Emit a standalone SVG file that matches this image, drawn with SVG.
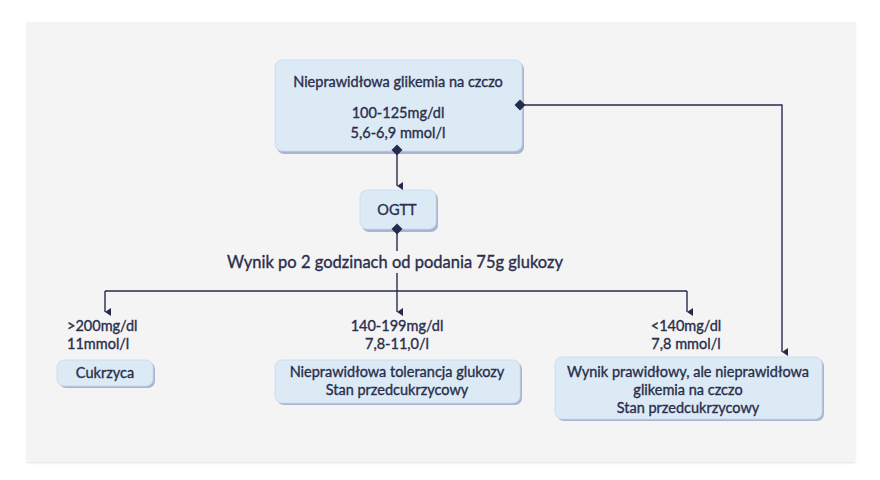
<svg xmlns="http://www.w3.org/2000/svg" width="880" height="480" viewBox="0 0 880 480">
<defs>
<marker id="arr" viewBox="0 0 8 8" refX="4" refY="8" markerWidth="8" markerHeight="8" markerUnits="userSpaceOnUse" orient="auto-start-reverse">
<path d="M0,2 L8,2 L4,8 Z" fill="#262b4d"/>
</marker>
<filter id="pshadow" x="-5%" y="-5%" width="110%" height="110%">
<feDropShadow dx="0" dy="1" stdDeviation="1.2" flood-color="#000" flood-opacity="0.12"/>
</filter>
</defs>
<style>
.t{font-family:Lato,"Noto Sans",sans-serif;font-size:14.5px;fill:#2a2e4c;stroke:#2a2e4c;stroke-width:0.35}
.big{font-size:16.5px}
.sh{fill:#a8b6d2}
.bx{fill:#dceaf6;stroke:#c9d9ec;stroke-width:0.8}
.ln{stroke:#262b4d;stroke-width:1.4;fill:none}
.dot{fill:#262b4d}
</style>
<rect x="0" y="0" width="880" height="480" fill="#ffffff"/>
<rect x="27" y="22" width="828" height="440" fill="#f4f4f5" filter="url(#pshadow)"/>

<g id="node-ifg">
<rect class="sh" x="277" y="62" width="247" height="92" rx="7"/>
<rect class="bx" x="275" y="60" width="247" height="91" rx="7"/>
<text class="t" x="398" y="87" text-anchor="middle">Nieprawidłowa glikemia na czczo</text>
<text class="t" x="398" y="118" text-anchor="middle">100-125mg/dl</text>
<text class="t" x="398" y="138" text-anchor="middle">5,6-6,9 mmol/l</text>
</g>

<g id="node-ogtt">
<rect class="sh" x="362" y="192" width="76" height="40" rx="7"/>
<rect class="bx" x="360" y="190" width="76" height="39" rx="7"/>
<text class="t" x="397" y="215" text-anchor="middle">OGTT</text>
</g>

<text class="t big" x="395" y="268" text-anchor="middle">Wynik po 2 godzinach od podania 75g glukozy</text>

<text class="t" x="67" y="331">&gt;200mg/dl</text>
<text class="t" x="67" y="349">11mmol/l</text>
<text class="t" x="397" y="331" text-anchor="middle">140-199mg/dl</text>
<text class="t" x="397" y="349" text-anchor="middle">7,8-11,0/l</text>
<text class="t" x="686" y="331" text-anchor="middle">&lt;140mg/dl</text>
<text class="t" x="686" y="349" text-anchor="middle">7,8 mmol/l</text>

<g id="node-cukrzyca">
<rect class="sh" x="59" y="362" width="96" height="26" rx="7"/>
<rect class="bx" x="57" y="360" width="96" height="26" rx="7"/>
<text class="t" x="105" y="378" text-anchor="middle">Cukrzyca</text>
</g>

<g id="node-igt">
<rect class="sh" x="277" y="362" width="245" height="43" rx="7"/>
<rect class="bx" x="275" y="360" width="245" height="43" rx="7"/>
<text class="t" x="397" y="377" text-anchor="middle">Nieprawidłowa tolerancja glukozy</text>
<text class="t" x="397" y="395" text-anchor="middle">Stan przedcukrzycowy</text>
</g>

<g id="node-normal">
<rect class="sh" x="557" y="359" width="267" height="62" rx="7"/>
<rect class="bx" x="555" y="357" width="267" height="62" rx="7"/>
<text class="t" x="688" y="377" text-anchor="middle">Wynik prawidłowy, ale nieprawidłowa</text>
<text class="t" x="688" y="395" text-anchor="middle">glikemia na czczo</text>
<text class="t" x="688" y="413" text-anchor="middle">Stan przedcukrzycowy</text>
</g>

<g id="connectors">
<path class="ln" d="M397,150 V186" marker-end="url(#arr)"/>
<path class="ln" d="M397,229 V251"/>
<path class="ln" d="M397,273 V291"/>
<path class="ln" d="M105,291 H687"/>
<path class="ln" d="M105,291 V312" marker-end="url(#arr)"/>
<path class="ln" d="M397,291 V312" marker-end="url(#arr)"/>
<path class="ln" d="M687,291 V312" marker-end="url(#arr)"/>
<path class="ln" d="M520,105 H782 V352" marker-end="url(#arr)"/>
<path class="dot" d="M397,144.5 L402.5,150 L397,155.5 L391.5,150 Z"/>
<path class="dot" d="M397,223.5 L402.5,229 L397,234.5 L391.5,229 Z"/>
<path class="dot" d="M520,99.5 L525.5,105 L520,110.5 L514.5,105 Z"/>
</g>
</svg>
